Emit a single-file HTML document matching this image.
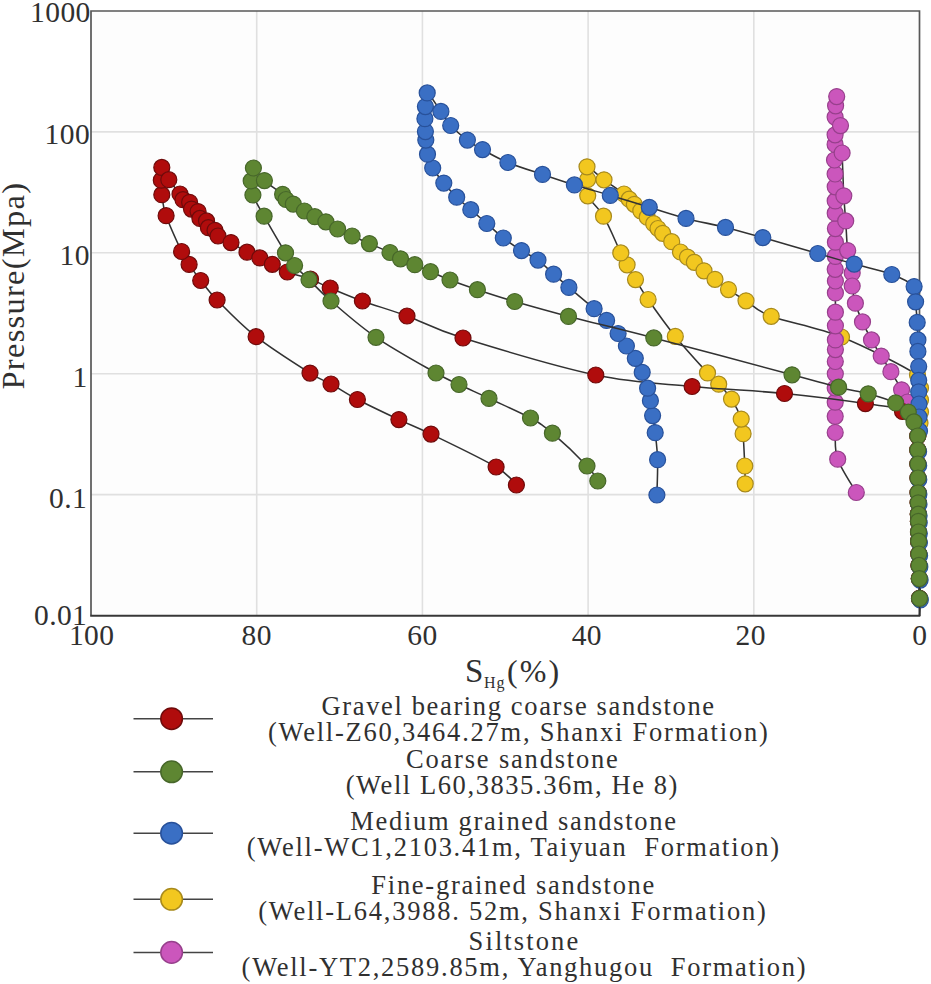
<!DOCTYPE html>
<html><head><meta charset="utf-8"><title>Pressure vs SHg</title>
<style>
html,body{margin:0;padding:0;background:#fff;}
body{width:931px;height:984px;overflow:hidden;}
svg{display:block;}
text{font-family:"Liberation Serif",serif;fill:#303030;}
.tk text{font-size:29.5px;letter-spacing:0.4px;}
.ttl{font-size:32.5px;}
.sub{font-size:16px;}
.sx{font-size:32px;}
.lg{font-size:26.5px;white-space:pre;}
</style></head><body>
<svg width="931" height="984" viewBox="0 0 931 984">
<rect x="0" y="0" width="931" height="984" fill="#ffffff"/>
<rect x="91" y="11" width="828.5" height="604.5" fill="#fdfdfd"/>
<g stroke="#e0e0e0" stroke-width="1.6"><line x1="753.8" y1="11" x2="753.8" y2="615.5"/><line x1="588.1" y1="11" x2="588.1" y2="615.5"/><line x1="422.4" y1="11" x2="422.4" y2="615.5"/><line x1="256.7" y1="11" x2="256.7" y2="615.5"/><line x1="91" y1="131.9" x2="919.5" y2="131.9"/><line x1="91" y1="252.8" x2="919.5" y2="252.8"/><line x1="91" y1="373.7" x2="919.5" y2="373.7"/><line x1="91" y1="494.6" x2="919.5" y2="494.6"/></g>
<path d="M91,615.5 V11 H919.5 V615.5" fill="none" stroke="#585858" stroke-width="1.7"/>
<line x1="90.2" y1="615.8" x2="920.3" y2="615.8" stroke="#383838" stroke-width="2.1"/>
<path d="M745.2,483.8 C745.1,480.8 745.1,474.4 744.8,466 C744.4,457.6 743.7,441.5 743.1,433.7 C742.5,425.9 743.1,424.9 741.2,419.1 C739.3,413.3 735.2,404.9 731.5,399.1 C727.8,393.3 722.7,388.6 718.7,384.2 C714.7,379.8 714.7,380.9 707.5,372.9 C700.3,364.9 685.2,348.6 675.3,336.4 C665.4,324.2 654.7,309 648.1,299.5 C641.5,290 639,285.4 635.5,279.6 C632,273.8 629.6,269.2 627.1,264.8 C624.6,260.4 624.7,261 620.8,252.9 C616.9,244.8 609,225.7 603.5,216.2 C598,206.7 590.3,201.9 587.7,195.8 C585.1,189.7 587.8,184.3 587.7,179.5 C587.6,174.7 584.3,166.8 587,166.8 C589.7,166.9 597.8,175.3 604,179.8 C610.2,184.3 619.8,190.8 624,194 C628.2,197.2 627.5,197.5 629.2,199.2 C630.9,200.9 632.4,202.4 634.3,204.3 C636.2,206.2 638.6,208.7 640.8,210.8 C642.9,213 645.1,215 647.2,217.2 C649.4,219.3 651.9,221.8 653.7,223.7 C655.5,225.6 656.5,226.9 658,228.5 C659.5,230.1 660.4,231.1 662.7,233.3 C665,235.5 668.7,238.6 671.7,241.7 C674.7,244.8 677.9,249.4 680.5,252 C683.1,254.6 685.2,255.5 687.5,257.2 C689.8,258.9 691.5,260 694.3,262.3 C697,264.6 700.5,268 704,270.8 C707.5,273.6 710.9,276.2 715,279.3 C719.1,282.4 723.3,286 728.5,289.6 C733.7,293.2 738.9,296.4 746,300.8 C753.1,305.2 755.3,310.3 771.2,316.3 C787.1,322.3 817.1,327.2 841.5,337 C865.9,346.8 904.3,366.5 917.5,375 C930.7,383.5 920,383.8 920.5,388 C921,392.2 920.5,396 920.5,400 C920.5,404 920.6,408.2 920.5,412 C920.4,415.8 920.5,419 920,423 C919.5,427 918.2,431.5 917.8,436 C917.4,440.5 917.8,445.3 917.8,450 C917.8,454.7 917.9,459.3 917.9,464 C917.9,468.7 918,473.2 918,478 C918,482.8 918.1,488.7 918.1,492.8 C918.1,496.9 918.2,499.2 918.2,502.8 C918.2,506.4 918.3,511.1 918.3,514.2 C918.3,517.3 918.4,518.3 918.4,521.3 C918.4,524.3 918.5,528.7 918.5,532 C918.5,535.3 918.6,537.5 918.6,541.2 C918.6,544.9 918.7,550 918.8,554 C918.9,558 918.9,561.3 919,565.4 C919.1,569.5 919.2,573.1 919.3,578.6 C919.4,584.1 919.5,595.1 919.5,598.4" fill="none" stroke="#323232" stroke-width="1.55"/>
<g fill="#f2c71f" stroke="#a88a1c" stroke-width="1.2">
<circle cx="745.2" cy="483.8" r="8"/>
<circle cx="744.8" cy="466" r="8"/>
<circle cx="743.1" cy="433.7" r="8"/>
<circle cx="741.2" cy="419.1" r="8"/>
<circle cx="731.5" cy="399.1" r="8"/>
<circle cx="718.7" cy="384.2" r="8"/>
<circle cx="707.5" cy="372.9" r="8"/>
<circle cx="675.3" cy="336.4" r="8"/>
<circle cx="648.1" cy="299.5" r="8"/>
<circle cx="635.5" cy="279.6" r="8"/>
<circle cx="627.1" cy="264.8" r="8"/>
<circle cx="620.8" cy="252.9" r="8"/>
<circle cx="603.5" cy="216.2" r="8"/>
<circle cx="587.7" cy="195.8" r="8"/>
<circle cx="587.7" cy="179.5" r="8"/>
<circle cx="587" cy="166.8" r="8"/>
<circle cx="604" cy="179.8" r="8"/>
<circle cx="624" cy="194" r="8"/>
<circle cx="629.2" cy="199.2" r="8"/>
<circle cx="634.3" cy="204.3" r="8"/>
<circle cx="640.8" cy="210.8" r="8"/>
<circle cx="647.2" cy="217.2" r="8"/>
<circle cx="653.7" cy="223.7" r="8"/>
<circle cx="658" cy="228.5" r="8"/>
<circle cx="662.7" cy="233.3" r="8"/>
<circle cx="671.7" cy="241.7" r="8"/>
<circle cx="680.5" cy="252" r="8"/>
<circle cx="687.5" cy="257.2" r="8"/>
<circle cx="694.3" cy="262.3" r="8"/>
<circle cx="704" cy="270.8" r="8"/>
<circle cx="715" cy="279.3" r="8"/>
<circle cx="728.5" cy="289.6" r="8"/>
<circle cx="746" cy="300.8" r="8"/>
<circle cx="771.2" cy="316.3" r="8"/>
<circle cx="841.5" cy="337" r="8"/>
<circle cx="917.5" cy="375" r="8"/>
<circle cx="920.5" cy="388" r="8"/>
<circle cx="920.5" cy="400" r="8"/>
<circle cx="920.5" cy="412" r="8"/>
<circle cx="920" cy="423" r="8"/>
<circle cx="917.8" cy="436" r="8"/>
<circle cx="917.8" cy="450" r="8"/>
<circle cx="917.9" cy="464" r="8"/>
<circle cx="918" cy="478" r="8"/>
<circle cx="918.1" cy="492.8" r="8"/>
<circle cx="918.2" cy="502.8" r="8"/>
<circle cx="918.3" cy="514.2" r="8"/>
<circle cx="918.4" cy="521.3" r="8"/>
<circle cx="918.5" cy="532" r="8"/>
<circle cx="918.6" cy="541.2" r="8"/>
<circle cx="918.8" cy="554" r="8"/>
<circle cx="919" cy="565.4" r="8"/>
<circle cx="919.3" cy="578.6" r="8"/>
<circle cx="919.5" cy="598.4" r="8"/>
</g>
<path d="M856.3,492.5 C853.2,486.9 841.2,469.2 837.7,459.2 C834.2,449.2 835.6,439.6 835.2,432.5 C834.8,425.4 835.2,421.4 835.2,416.3 C835.2,411.2 835.2,406.9 835.2,402.2 C835.2,397.5 835.2,392.7 835.2,388 C835.2,383.3 835.3,378.2 835.3,373.8 C835.3,369.4 835.3,365.5 835.3,361.5 C835.3,357.5 835.4,353.2 835.4,349.6 C835.4,346 835.4,343.9 835.4,339.9 C835.4,335.9 835.4,330.4 835.4,325.8 C835.4,321.2 835.4,317.7 835.4,312.2 C835.4,306.7 835.4,298.1 835.4,292.9 C835.4,287.7 835.4,284.9 835.4,281 C835.4,277.1 835.2,273.4 835.2,269.3 C835.2,265.2 835.4,260.9 835.4,256.4 C835.4,251.9 835.4,246.8 835.4,242.2 C835.4,237.6 835.4,233.4 835.4,228.6 C835.4,223.8 835.2,217.8 835.2,213.2 C835.2,208.6 835.2,205.3 835.2,200.9 C835.2,196.5 835.2,191.3 835.2,186.8 C835.2,182.3 835.2,178.5 835.1,174 C835,169.5 834.5,164.9 834.5,160 C834.5,155.1 835,148.6 835.1,144.4 C835.2,140.2 835.1,139.4 835.1,134.8 C835.1,130.2 835,121.9 835.1,117.1 C835.2,112.3 835.3,109.2 835.6,105.8 C835.9,102.4 835.9,93.3 836.7,96.6 C837.5,99.9 839.6,116.2 840.5,125.6 C841.4,135 841.6,141.3 842.1,153 C842.6,164.7 843.2,184.5 843.8,195.8 C844.4,207.1 845.1,211.8 845.7,220.9 C846.4,230 846.6,241.9 847.7,250.6 C848.8,259.3 851.5,267.1 852.2,273 C853,278.9 851.7,281 852.2,286 C852.7,291 853.7,297.2 855.4,303.2 C857.1,309.2 859.8,315.8 862.5,321.9 C865.2,328 868.4,334.2 871.5,339.9 C874.6,345.6 878,350.8 881.2,356.1 C884.4,361.4 887.5,366.1 890.9,371.7 C894.3,377.3 898.8,384.8 901.6,389.8 C904.4,394.9 905.6,397.6 907.5,402 C909.4,406.4 911.3,410.3 913,416 C914.7,421.7 917,430.3 917.8,436 C918.6,441.7 917.8,445.3 917.8,450 C917.8,454.7 917.9,459.3 917.9,464 C917.9,468.7 918,473.2 918,478 C918,482.8 918.1,488.7 918.1,492.8 C918.1,496.9 918.2,499.2 918.2,502.8 C918.2,506.4 918.3,511.1 918.3,514.2 C918.3,517.3 918.4,518.3 918.4,521.3 C918.4,524.3 918.5,528.7 918.5,532 C918.5,535.3 918.6,537.5 918.6,541.2 C918.6,544.9 918.7,550 918.8,554 C918.9,558 918.9,561.3 919,565.4 C919.1,569.5 919.2,573.1 919.3,578.6 C919.4,584.1 919.5,595.1 919.5,598.4" fill="none" stroke="#323232" stroke-width="1.55"/>
<g fill="#cb56bc" stroke="#97408c" stroke-width="1.2">
<circle cx="856.3" cy="492.5" r="8"/>
<circle cx="837.7" cy="459.2" r="8"/>
<circle cx="835.2" cy="432.5" r="8"/>
<circle cx="835.2" cy="416.3" r="8"/>
<circle cx="835.2" cy="402.2" r="8"/>
<circle cx="835.2" cy="388" r="8"/>
<circle cx="835.3" cy="373.8" r="8"/>
<circle cx="835.3" cy="361.5" r="8"/>
<circle cx="835.4" cy="349.6" r="8"/>
<circle cx="835.4" cy="339.9" r="8"/>
<circle cx="835.4" cy="325.8" r="8"/>
<circle cx="835.4" cy="312.2" r="8"/>
<circle cx="835.4" cy="292.9" r="8"/>
<circle cx="835.4" cy="281" r="8"/>
<circle cx="835.2" cy="269.3" r="8"/>
<circle cx="835.4" cy="256.4" r="8"/>
<circle cx="835.4" cy="242.2" r="8"/>
<circle cx="835.4" cy="228.6" r="8"/>
<circle cx="835.2" cy="213.2" r="8"/>
<circle cx="835.2" cy="200.9" r="8"/>
<circle cx="835.2" cy="186.8" r="8"/>
<circle cx="835.1" cy="174" r="8"/>
<circle cx="834.5" cy="160" r="8"/>
<circle cx="835.1" cy="144.4" r="8"/>
<circle cx="835.1" cy="134.8" r="8"/>
<circle cx="835.1" cy="117.1" r="8"/>
<circle cx="835.6" cy="105.8" r="8"/>
<circle cx="836.7" cy="96.6" r="8"/>
<circle cx="840.5" cy="125.6" r="8"/>
<circle cx="842.1" cy="153" r="8"/>
<circle cx="843.8" cy="195.8" r="8"/>
<circle cx="845.7" cy="220.9" r="8"/>
<circle cx="847.7" cy="250.6" r="8"/>
<circle cx="852.2" cy="273" r="8"/>
<circle cx="852.2" cy="286" r="8"/>
<circle cx="855.4" cy="303.2" r="8"/>
<circle cx="862.5" cy="321.9" r="8"/>
<circle cx="871.5" cy="339.9" r="8"/>
<circle cx="881.2" cy="356.1" r="8"/>
<circle cx="890.9" cy="371.7" r="8"/>
<circle cx="901.6" cy="389.8" r="8"/>
<circle cx="907.5" cy="402" r="8"/>
<circle cx="913" cy="416" r="8"/>
<circle cx="917.8" cy="436" r="8"/>
<circle cx="917.8" cy="450" r="8"/>
<circle cx="917.9" cy="464" r="8"/>
<circle cx="918" cy="478" r="8"/>
<circle cx="918.1" cy="492.8" r="8"/>
<circle cx="918.2" cy="502.8" r="8"/>
<circle cx="918.3" cy="514.2" r="8"/>
<circle cx="918.4" cy="521.3" r="8"/>
<circle cx="918.5" cy="532" r="8"/>
<circle cx="918.6" cy="541.2" r="8"/>
<circle cx="918.8" cy="554" r="8"/>
<circle cx="919" cy="565.4" r="8"/>
<circle cx="919.3" cy="578.6" r="8"/>
<circle cx="919.5" cy="598.4" r="8"/>
</g>
<path d="M516.4,485 C513,482 510.3,475.5 496.1,467 C481.9,458.5 447.2,442 431,434.1 C414.8,426.2 411.2,425.4 398.9,419.6 C386.6,413.8 368.7,405.4 357.4,399.5 C346.1,393.6 338.9,388.4 331,384 C323.1,379.6 322.5,381 310,373.1 C297.5,365.2 271.6,348.9 256.1,336.7 C240.6,324.5 226.3,309.4 217.1,300 C207.9,290.6 205.4,286.4 200.7,280.5 C196,274.6 192.3,269.2 189.1,264.4 C185.9,259.6 185.4,259.6 181.6,251.5 C177.8,243.4 169.4,225.2 166.1,215.7 C162.8,206.2 162.6,200.6 161.8,194.7 C161,188.8 161.3,184.8 161.3,180.2 C161.3,175.6 160.6,167.5 161.8,167.4 C163.1,167.3 165.8,175.3 168.8,179.7 C171.8,184.1 177.6,190.7 180,194 C182.4,197.3 181.4,198.4 183,199.7 C184.6,201.1 188.2,200.7 189.6,202.3 C191,203.8 190.1,207.5 191.5,209.1 C192.9,210.6 196.7,210 198.1,211.6 C199.5,213.1 198.5,216.9 199.9,218.4 C201.3,220 205.1,219.4 206.5,220.9 C207.9,222.5 207,226.2 208.4,227.7 C209.8,229.3 213.4,228.9 215,230.3 C216.6,231.6 215.3,233.9 218,236 C220.7,238.1 226.2,239.9 231,242.6 C235.8,245.3 242.2,249.6 247,252.2 C251.8,254.8 255.6,255.9 259.8,257.9 C264,259.9 267.7,261.9 272.3,264.3 C276.9,266.7 280.9,269.5 287.3,272 C293.7,274.5 303.4,276.5 310.5,279.2 C317.6,281.9 321.6,284.4 330.2,288 C338.8,291.6 349.6,296.3 362.4,301 C375.2,305.7 390.2,309.8 407,316 C423.8,322.2 431.5,328.2 463,338 C494.5,347.8 557.6,366.9 595.8,375 C634,383.1 660.6,383.4 692.1,386.5 C723.6,389.6 755.6,390.6 784.5,393.5 C813.4,396.4 845.7,400.6 865.4,403.6 C885.1,406.6 893.8,406.1 902.5,411.5 C911.2,416.9 915.2,429.6 917.8,436 C920.3,442.4 917.8,445.3 917.8,450 C917.8,454.7 917.9,459.3 917.9,464 C917.9,468.7 918,473.2 918,478 C918,482.8 918.1,488.7 918.1,492.8 C918.1,496.9 918.2,499.2 918.2,502.8 C918.2,506.4 918.3,511.1 918.3,514.2 C918.3,517.3 918.4,518.3 918.4,521.3 C918.4,524.3 918.5,528.7 918.5,532 C918.5,535.3 918.6,537.5 918.6,541.2 C918.6,544.9 918.7,550 918.8,554 C918.9,558 918.9,561.3 919,565.4 C919.1,569.5 919.2,573.1 919.3,578.6 C919.4,584.1 919.5,595.1 919.5,598.4" fill="none" stroke="#323232" stroke-width="1.55"/>
<g fill="#b00c0c" stroke="#6e0b0b" stroke-width="1.2">
<circle cx="516.4" cy="485" r="8"/>
<circle cx="496.1" cy="467" r="8"/>
<circle cx="431" cy="434.1" r="8"/>
<circle cx="398.9" cy="419.6" r="8"/>
<circle cx="357.4" cy="399.5" r="8"/>
<circle cx="331" cy="384" r="8"/>
<circle cx="310" cy="373.1" r="8"/>
<circle cx="256.1" cy="336.7" r="8"/>
<circle cx="217.1" cy="300" r="8"/>
<circle cx="200.7" cy="280.5" r="8"/>
<circle cx="189.1" cy="264.4" r="8"/>
<circle cx="181.6" cy="251.5" r="8"/>
<circle cx="166.1" cy="215.7" r="8"/>
<circle cx="161.8" cy="194.7" r="8"/>
<circle cx="161.3" cy="180.2" r="8"/>
<circle cx="161.8" cy="167.4" r="8"/>
<circle cx="168.8" cy="179.7" r="8"/>
<circle cx="180" cy="194" r="8"/>
<circle cx="183" cy="199.7" r="8"/>
<circle cx="189.6" cy="202.3" r="8"/>
<circle cx="191.5" cy="209.1" r="8"/>
<circle cx="198.1" cy="211.6" r="8"/>
<circle cx="199.9" cy="218.4" r="8"/>
<circle cx="206.5" cy="220.9" r="8"/>
<circle cx="208.4" cy="227.7" r="8"/>
<circle cx="215" cy="230.3" r="8"/>
<circle cx="218" cy="236" r="8"/>
<circle cx="231" cy="242.6" r="8"/>
<circle cx="247" cy="252.2" r="8"/>
<circle cx="259.8" cy="257.9" r="8"/>
<circle cx="272.3" cy="264.3" r="8"/>
<circle cx="287.3" cy="272" r="8"/>
<circle cx="310.5" cy="279.2" r="8"/>
<circle cx="330.2" cy="288" r="8"/>
<circle cx="362.4" cy="301" r="8"/>
<circle cx="407" cy="316" r="8"/>
<circle cx="463" cy="338" r="8"/>
<circle cx="595.8" cy="375" r="8"/>
<circle cx="692.1" cy="386.5" r="8"/>
<circle cx="784.5" cy="393.5" r="8"/>
<circle cx="865.4" cy="403.6" r="8"/>
<circle cx="902.5" cy="411.5" r="8"/>
<circle cx="917.8" cy="436" r="8"/>
<circle cx="917.8" cy="450" r="8"/>
<circle cx="917.9" cy="464" r="8"/>
<circle cx="918" cy="478" r="8"/>
<circle cx="918.1" cy="492.8" r="8"/>
<circle cx="918.2" cy="502.8" r="8"/>
<circle cx="918.3" cy="514.2" r="8"/>
<circle cx="918.4" cy="521.3" r="8"/>
<circle cx="918.5" cy="532" r="8"/>
<circle cx="918.6" cy="541.2" r="8"/>
<circle cx="918.8" cy="554" r="8"/>
<circle cx="919" cy="565.4" r="8"/>
<circle cx="919.3" cy="578.6" r="8"/>
<circle cx="919.5" cy="598.4" r="8"/>
</g>
<path d="M656.9,495 C657,489.1 657.9,470.1 657.6,459.7 C657.3,449.3 656,440 655.2,432.7 C654.4,425.4 653.4,420.9 652.6,415.6 C651.8,410.3 651.2,405.3 650.4,400.7 C649.6,396.1 649,392.9 647.6,388.2 C646.2,383.5 644.2,377.3 642.2,372.3 C640.2,367.3 637.9,362.7 635.3,358.3 C632.7,353.9 629.3,350.1 626.4,346 C623.5,341.9 621.4,337.8 618.1,333.5 C614.8,329.2 610.6,324.5 606.6,320.4 C602.6,316.3 600.4,314.2 594.1,308.7 C587.8,303.2 575.6,293.1 568.9,287.4 C562.1,281.6 558.8,278.8 553.6,274.2 C548.5,269.6 543.4,264 538,260.1 C532.6,256.2 527.3,254.3 521.5,250.6 C515.7,246.9 509.1,242.5 503.3,238 C497.5,233.5 492.2,228.2 486.8,223.5 C481.4,218.8 475.8,214.1 470.8,209.7 C465.8,205.3 461.2,201.6 456.7,197.2 C452.2,192.8 447.8,188 443.8,183.1 C439.8,178.2 435.4,172.8 432.7,168 C430,163.2 428.6,158.8 427.5,154.2 C426.4,149.5 426.2,143.9 425.8,140.1 C425.4,136.3 425.5,135.2 425.4,131.6 C425.2,128 424.9,122.9 424.9,118.7 C424.9,114.5 425,110.9 425.4,106.6 C425.8,102.3 424.6,92.1 427.2,92.9 C429.8,93.7 437,106 440.9,111.4 C444.8,116.8 446.3,120.7 450.7,125.5 C455.1,130.3 462.1,136.1 467.4,140.1 C472.7,144.1 475.8,145.9 482.5,149.6 C489.2,153.3 497.9,158.4 507.9,162.5 C517.9,166.6 531.4,170.7 542.5,174.4 C553.6,178.1 563.1,181.4 574.4,184.9 C585.7,188.4 597.8,191.7 610.3,195.4 C622.8,199.1 636.7,203.5 649.3,207.3 C661.9,211.1 673.3,215.1 686,218.4 C698.7,221.8 712.7,224.2 725.5,227.4 C738.3,230.6 747.4,233.2 762.8,237.6 C778.2,241.9 802.6,249.1 817.8,253.5 C833,257.9 841.9,260.6 854.2,264.1 C866.5,267.6 881.8,270.8 891.8,274.5 C901.8,278.2 910.1,282.1 914.1,286.6 C918.1,291.2 915.1,295.8 915.6,301.8 C916.1,307.8 916.8,316 917.2,322.4 C917.6,328.8 917.8,335.1 917.9,339.9 C918,344.7 917.8,346.9 917.9,351.4 C918,355.8 918.6,361.8 918.7,366.6 C918.8,371.4 918.7,376.1 918.7,380.3 C918.7,384.5 918.7,387.9 918.7,391.8 C918.8,395.8 919,399.8 919,404 C919,408.2 918.9,412.5 919,417 C919.1,421.5 919.6,425.2 919.5,431 C919.4,436.8 918.7,445.8 918.6,451.5 C918.5,457.2 918.7,460.8 918.7,465.5 C918.7,470.2 918.8,474.7 918.8,479.5 C918.8,484.3 918.9,490.2 918.9,494.3 C918.9,498.4 919,500.7 919,504.3 C919,507.9 919.1,512.6 919.1,515.7 C919.1,518.8 919.2,519.8 919.2,522.8 C919.2,525.8 919.3,530.2 919.3,533.5 C919.3,536.8 919.4,539 919.4,542.7 C919.4,546.4 919.5,551.5 919.6,555.5 C919.7,559.5 919.7,562.8 919.8,566.9 C919.9,571 920,574.6 920.1,580.1 C920.2,585.6 920.4,593.9 920.3,599.9 C920.2,605.9 919.7,613.3 919.6,616" fill="none" stroke="#323232" stroke-width="1.55"/>
<g fill="#3a6fc4" stroke="#28519a" stroke-width="1.2">
<circle cx="656.9" cy="495" r="8"/>
<circle cx="657.6" cy="459.7" r="8"/>
<circle cx="655.2" cy="432.7" r="8"/>
<circle cx="652.6" cy="415.6" r="8"/>
<circle cx="650.4" cy="400.7" r="8"/>
<circle cx="647.6" cy="388.2" r="8"/>
<circle cx="642.2" cy="372.3" r="8"/>
<circle cx="635.3" cy="358.3" r="8"/>
<circle cx="626.4" cy="346" r="8"/>
<circle cx="618.1" cy="333.5" r="8"/>
<circle cx="606.6" cy="320.4" r="8"/>
<circle cx="594.1" cy="308.7" r="8"/>
<circle cx="568.9" cy="287.4" r="8"/>
<circle cx="553.6" cy="274.2" r="8"/>
<circle cx="538" cy="260.1" r="8"/>
<circle cx="521.5" cy="250.6" r="8"/>
<circle cx="503.3" cy="238" r="8"/>
<circle cx="486.8" cy="223.5" r="8"/>
<circle cx="470.8" cy="209.7" r="8"/>
<circle cx="456.7" cy="197.2" r="8"/>
<circle cx="443.8" cy="183.1" r="8"/>
<circle cx="432.7" cy="168" r="8"/>
<circle cx="427.5" cy="154.2" r="8"/>
<circle cx="425.8" cy="140.1" r="8"/>
<circle cx="425.4" cy="131.6" r="8"/>
<circle cx="424.9" cy="118.7" r="8"/>
<circle cx="425.4" cy="106.6" r="8"/>
<circle cx="427.2" cy="92.9" r="8"/>
<circle cx="440.9" cy="111.4" r="8"/>
<circle cx="450.7" cy="125.5" r="8"/>
<circle cx="467.4" cy="140.1" r="8"/>
<circle cx="482.5" cy="149.6" r="8"/>
<circle cx="507.9" cy="162.5" r="8"/>
<circle cx="542.5" cy="174.4" r="8"/>
<circle cx="574.4" cy="184.9" r="8"/>
<circle cx="610.3" cy="195.4" r="8"/>
<circle cx="649.3" cy="207.3" r="8"/>
<circle cx="686" cy="218.4" r="8"/>
<circle cx="725.5" cy="227.4" r="8"/>
<circle cx="762.8" cy="237.6" r="8"/>
<circle cx="817.8" cy="253.5" r="8"/>
<circle cx="854.2" cy="264.1" r="8"/>
<circle cx="891.8" cy="274.5" r="8"/>
<circle cx="914.1" cy="286.6" r="8"/>
<circle cx="915.6" cy="301.8" r="8"/>
<circle cx="917.2" cy="322.4" r="8"/>
<circle cx="917.9" cy="339.9" r="8"/>
<circle cx="917.9" cy="351.4" r="8"/>
<circle cx="918.7" cy="366.6" r="8"/>
<circle cx="918.7" cy="380.3" r="8"/>
<circle cx="918.7" cy="391.8" r="8"/>
<circle cx="919" cy="404" r="8"/>
<circle cx="919" cy="417" r="8"/>
<circle cx="919.5" cy="431" r="8"/>
<circle cx="918.6" cy="451.5" r="8"/>
<circle cx="918.7" cy="465.5" r="8"/>
<circle cx="918.8" cy="479.5" r="8"/>
<circle cx="918.9" cy="494.3" r="8"/>
<circle cx="919" cy="504.3" r="8"/>
<circle cx="919.1" cy="515.7" r="8"/>
<circle cx="919.2" cy="522.8" r="8"/>
<circle cx="919.3" cy="533.5" r="8"/>
<circle cx="919.4" cy="542.7" r="8"/>
<circle cx="919.6" cy="555.5" r="8"/>
<circle cx="919.8" cy="566.9" r="8"/>
<circle cx="920.1" cy="580.1" r="8"/>
<circle cx="920.3" cy="599.9" r="8"/>
</g>
<path d="M597.8,481 C596,478.5 594.6,474 587,466 C579.4,458 561.8,441.2 552.4,433.2 C543,425.2 541.1,423.8 530.5,418 C519.9,412.2 500.9,404 489,398.4 C477.1,392.8 467.8,388.7 459,384.5 C450.2,380.3 449.8,380.9 436,373 C422.2,365.1 393.5,349.3 376,337.3 C358.5,325.3 342.2,310.6 331,301 C319.8,291.4 315.1,285.6 309,279.7 C302.9,273.8 298.5,270 294.6,265.5 C290.7,261 290.6,261 285.5,252.8 C280.4,244.6 269.5,225.8 264.1,216.2 C258.7,206.6 255.1,200.9 252.9,195 C250.8,189.1 251.1,185.4 251.2,180.9 C251.3,176.4 251.2,168.1 253.4,168 C255.6,167.9 259.5,176.2 264.4,180.6 C269.3,185 279,191.2 282.6,194.3 C286.2,197.5 284.2,197.9 286,199.5 C287.8,201.1 290.2,202.2 293.3,204.1 C296.4,206 300.8,208.9 304.4,211 C308,213.1 311.2,214.9 314.8,216.7 C318.4,218.5 322.1,219.8 325.9,221.8 C329.7,223.9 333.2,226.6 337.6,229 C342,231.4 346.8,233.6 352.1,236 C357.4,238.4 363.1,240.8 369.4,243.6 C375.7,246.3 384.8,250 390,252.5 C395.2,255 396.4,256.8 400.5,258.8 C404.6,260.8 409.8,262.6 414.8,264.7 C419.8,266.8 424.6,269.1 430.5,271.7 C436.4,274.2 442.2,277 450,280 C457.8,283 466.6,286.1 477.4,289.7 C488.2,293.3 499.5,297.1 514.7,301.5 C529.9,305.9 545.3,310.3 568.5,316.4 C591.7,322.5 616.5,328.2 653.8,337.9 C691,347.6 761.2,366.6 792,374.8 C822.8,383 825.9,384 838.6,387.2 C851.3,390.4 858.7,391.2 868.2,393.8 C877.7,396.4 889,399.8 895.7,402.9 C902.4,405.9 905.2,408.9 908.3,412.1 C911.3,415.3 912.4,417.9 914,421.9 C915.6,425.9 917.2,431.3 917.8,436 C918.4,440.7 917.8,445.3 917.8,450 C917.8,454.7 917.9,459.3 917.9,464 C917.9,468.7 918,473.2 918,478 C918,482.8 918.1,488.7 918.1,492.8 C918.1,496.9 918.2,499.2 918.2,502.8 C918.2,506.4 918.3,511.1 918.3,514.2 C918.3,517.3 918.4,518.3 918.4,521.3 C918.4,524.3 918.5,528.7 918.5,532 C918.5,535.3 918.6,537.5 918.6,541.2 C918.6,544.9 918.7,550 918.8,554 C918.9,558 918.9,561.3 919,565.4 C919.1,569.5 919.2,573.1 919.3,578.6 C919.4,584.1 919.5,592.2 919.5,598.4 C919.5,604.6 919.5,613.1 919.5,616" fill="none" stroke="#323232" stroke-width="1.55"/>
<g fill="#5e8632" stroke="#47672a" stroke-width="1.2">
<circle cx="597.8" cy="481" r="8"/>
<circle cx="587" cy="466" r="8"/>
<circle cx="552.4" cy="433.2" r="8"/>
<circle cx="530.5" cy="418" r="8"/>
<circle cx="489" cy="398.4" r="8"/>
<circle cx="459" cy="384.5" r="8"/>
<circle cx="436" cy="373" r="8"/>
<circle cx="376" cy="337.3" r="8"/>
<circle cx="331" cy="301" r="8"/>
<circle cx="309" cy="279.7" r="8"/>
<circle cx="294.6" cy="265.5" r="8"/>
<circle cx="285.5" cy="252.8" r="8"/>
<circle cx="264.1" cy="216.2" r="8"/>
<circle cx="252.9" cy="195" r="8"/>
<circle cx="251.2" cy="180.9" r="8"/>
<circle cx="253.4" cy="168" r="8"/>
<circle cx="264.4" cy="180.6" r="8"/>
<circle cx="282.6" cy="194.3" r="8"/>
<circle cx="286" cy="199.5" r="8"/>
<circle cx="293.3" cy="204.1" r="8"/>
<circle cx="304.4" cy="211" r="8"/>
<circle cx="314.8" cy="216.7" r="8"/>
<circle cx="325.9" cy="221.8" r="8"/>
<circle cx="337.6" cy="229" r="8"/>
<circle cx="352.1" cy="236" r="8"/>
<circle cx="369.4" cy="243.6" r="8"/>
<circle cx="390" cy="252.5" r="8"/>
<circle cx="400.5" cy="258.8" r="8"/>
<circle cx="414.8" cy="264.7" r="8"/>
<circle cx="430.5" cy="271.7" r="8"/>
<circle cx="450" cy="280" r="8"/>
<circle cx="477.4" cy="289.7" r="8"/>
<circle cx="514.7" cy="301.5" r="8"/>
<circle cx="568.5" cy="316.4" r="8"/>
<circle cx="653.8" cy="337.9" r="8"/>
<circle cx="792" cy="374.8" r="8"/>
<circle cx="838.6" cy="387.2" r="8"/>
<circle cx="868.2" cy="393.8" r="8"/>
<circle cx="895.7" cy="402.9" r="8"/>
<circle cx="908.3" cy="412.1" r="8"/>
<circle cx="914" cy="421.9" r="8"/>
<circle cx="917.8" cy="436" r="8"/>
<circle cx="917.8" cy="450" r="8"/>
<circle cx="917.9" cy="464" r="8"/>
<circle cx="918" cy="478" r="8"/>
<circle cx="918.1" cy="492.8" r="8"/>
<circle cx="918.2" cy="502.8" r="8"/>
<circle cx="918.3" cy="514.2" r="8"/>
<circle cx="918.4" cy="521.3" r="8"/>
<circle cx="918.5" cy="532" r="8"/>
<circle cx="918.6" cy="541.2" r="8"/>
<circle cx="918.8" cy="554" r="8"/>
<circle cx="919" cy="565.4" r="8"/>
<circle cx="919.3" cy="578.6" r="8"/>
<circle cx="919.5" cy="598.4" r="8"/>
</g>
<g class="tk"><text x="30.1" y="22.3">1000</text><text x="44.6" y="144">100</text><text x="59.6" y="264.5">10</text><text x="72.4" y="387.4">1</text><text x="49" y="508">0.1</text><text x="34" y="624.6">0.01</text><text x="68.9" y="644.6">100</text><text x="241.5" y="644.6">80</text><text x="407.3" y="644.6">60</text><text x="571.7" y="644.6">40</text><text x="735.5" y="644.6">20</text><text x="912.3" y="644.6">0</text></g>
<text class="ttl" transform="translate(24.4,389.5) rotate(-90)" style="letter-spacing:1.27px">Pressure(Mpa)</text>
<text class="sx" x="465" y="681.8" style="font-size:33px">S</text><text class="sub" x="484.1" y="687.9" style="letter-spacing:0.8px">Hg</text><text class="sx" x="506.9" y="681.6" style="letter-spacing:2.1px">(%)</text>
<line x1="133.5" y1="718.7" x2="213" y2="718.7" stroke="#444" stroke-width="1.5"/>
<circle cx="171.6" cy="718.7" r="10.8" fill="#b00c0c" stroke="#6e0b0b" stroke-width="1.5"/>
<text x="321.6" y="714.5" class="lg" style="letter-spacing:1.63px">Gravel bearing coarse sandstone</text>
<text x="267.9" y="740.5" class="lg" style="letter-spacing:1.78px">(Well-Z60,3464.27m, Shanxi Formation)</text>
<line x1="133.5" y1="771.8" x2="213" y2="771.8" stroke="#444" stroke-width="1.5"/>
<circle cx="171.6" cy="771.8" r="10.8" fill="#5e8632" stroke="#47672a" stroke-width="1.5"/>
<text x="406" y="768.2" class="lg" style="letter-spacing:1.81px">Coarse sandstone</text>
<text x="345.7" y="794" class="lg" style="letter-spacing:1.58px">(Well L60,3835.36m, He 8)</text>
<line x1="133.5" y1="833.2" x2="213" y2="833.2" stroke="#444" stroke-width="1.5"/>
<circle cx="171.6" cy="833.2" r="10.8" fill="#3a6fc4" stroke="#28519a" stroke-width="1.5"/>
<text x="350.3" y="830.1" class="lg" style="letter-spacing:1.68px">Medium grained sandstone</text>
<text x="246.8" y="855.9" class="lg" style="letter-spacing:1.73px">(Well-WC1,2103.41m, Taiyuan&#160; Formation)</text>
<line x1="133.5" y1="899.3" x2="213" y2="899.3" stroke="#444" stroke-width="1.5"/>
<circle cx="171.6" cy="899.3" r="10.8" fill="#f2c71f" stroke="#a88a1c" stroke-width="1.5"/>
<text x="371.3" y="893.5" class="lg" style="letter-spacing:1.74px">Fine-grained sandstone</text>
<text x="258.2" y="920.1" class="lg" style="letter-spacing:1.76px">(Well-L64,3988. 52m, Shanxi Formation)</text>
<line x1="133.5" y1="952.4" x2="213" y2="952.4" stroke="#444" stroke-width="1.5"/>
<circle cx="171.6" cy="952.4" r="10.8" fill="#cb56bc" stroke="#97408c" stroke-width="1.5"/>
<text x="468.6" y="949.5" class="lg" style="letter-spacing:2.1px">Siltstone</text>
<text x="241.6" y="976.2" class="lg" style="letter-spacing:1.73px">(Well-YT2,2589.85m, Yanghugou&#160; Formation)</text>
</svg>
</body></html>
